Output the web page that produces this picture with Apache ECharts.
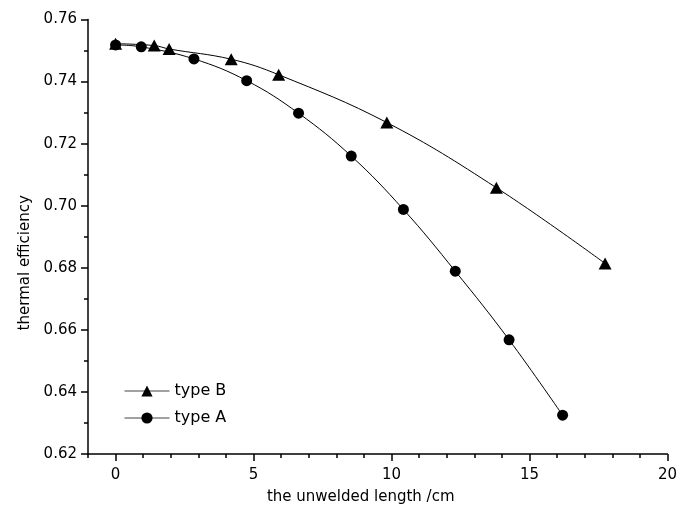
<!DOCTYPE html>
<html>
<head>
<meta charset="utf-8">
<script src="https://cdn.jsdelivr.net/npm/echarts@6/dist/echarts.min.js"></script>
<style>
html,body{margin:0;padding:0;background:#fff;}
#chart{width:680px;height:512px;}
</style>
</head>
<body>
<div id="chart"></div>
<script>
var typeA_x = [0, 0.93, 2.84, 4.75, 6.63, 8.54, 10.43, 12.31, 14.26, 16.2];
var typeA_y = [0.7518, 0.7512, 0.7473, 0.7403, 0.7298, 0.7160, 0.6988, 0.6789, 0.6568, 0.6325];
var typeB_x = [0, 1.4, 1.94, 4.19, 5.91, 9.83, 13.8, 17.74];
var typeB_y = [0.7522, 0.7516, 0.7505, 0.7472, 0.7422, 0.7268, 0.7058, 0.6814];
var xMajorTicks = [0, 5, 10, 15, 20];
var seriesNames = ['type A', 'type B'];

function pairs(xs, ys) { return xs.map(function (x, i) { return [x, ys[i]]; }); }

var font = '"DejaVu Sans", "Liberation Sans", Arial, sans-serif';
var chart = echarts.init(document.getElementById('chart'), null, {renderer: 'canvas'});
chart.setOption({
  animation: false,
  backgroundColor: '#fff',
  grid: {left: 88, right: 7, top: 19.5, bottom: 58, containLabel: false},
  legend: {
    orient: 'vertical', left: 119, top: 378,
    itemWidth: 45, itemHeight: 14, itemGap: 11,
    data: ['type B', 'type A'],
    lineStyle: {width: 1, color: '#444'},
    textStyle: {fontFamily: font, fontSize: 16, color: '#000', lineHeight: 14}
  },
  xAxis: [{
    type: 'value', min: -1, max: 20, interval: 1,
    position: 'bottom',
    name: 'the unwelded length /cm', nameLocation: 'middle', nameGap: 36,
    nameTextStyle: {fontFamily: font, fontSize: 15, color: '#000', padding: [0, 34, 0, 0]},
    splitLine: {show: false},
    axisLine: {onZero: false, lineStyle: {color: '#000', width: 1.5}},
    axisTick: {show: true, inside: false, length: 4, lineStyle: {color: '#000', width: 1.5}},
    axisLabel: {
      margin: 14, fontFamily: font, fontSize: 15, color: '#000',
      formatter: function (v) { return xMajorTicks.indexOf(v) >= 0 ? String(v) : ''; }
    }
  }, {
    type: 'value', min: -1, max: 20, interval: 1,
    position: 'bottom',
    splitLine: {show: false},
    axisLine: {show: false, onZero: false},
    axisLabel: {show: false},
    axisTick: {show: true, inside: false, length: 7, customValues: xMajorTicks, lineStyle: {color: '#000', width: 1.5}}
  }],
  yAxis: {
    type: 'value', min: 0.62, max: 0.76, interval: 0.02,
    name: 'thermal efficiency', nameLocation: 'middle', nameGap: 55,
    nameTextStyle: {fontFamily: font, fontSize: 15, color: '#000', padding: [0, 52, 0, 0]},
    splitLine: {show: false},
    axisLine: {show: true, onZero: false, lineStyle: {color: '#000', width: 1.5}},
    axisTick: {show: true, inside: false, length: 7, lineStyle: {color: '#000', width: 1.5}},
    minorTick: {show: true, splitNumber: 2, length: 4, lineStyle: {color: '#000', width: 1.5}},
    axisLabel: {
      margin: 11, fontFamily: font, fontSize: 15, color: '#000',
      formatter: function (v) { return v.toFixed(2); }
    }
  },
  series: [{
    name: seriesNames[0], type: 'line', xAxisIndex: 0,
    data: pairs(typeA_x, typeA_y),
    smooth: 0.4,
    symbol: 'circle', symbolSize: 11,
    lineStyle: {color: '#000', width: 1},
    itemStyle: {color: '#000'}
  }, {
    name: seriesNames[1], type: 'line', xAxisIndex: 0,
    data: pairs(typeB_x, typeB_y),
    smooth: 0.4,
    symbol: 'triangle', symbolSize: [13, 12],
    lineStyle: {color: '#000', width: 1},
    itemStyle: {color: '#000'}
  }]
});
</script>
</body>
</html>
